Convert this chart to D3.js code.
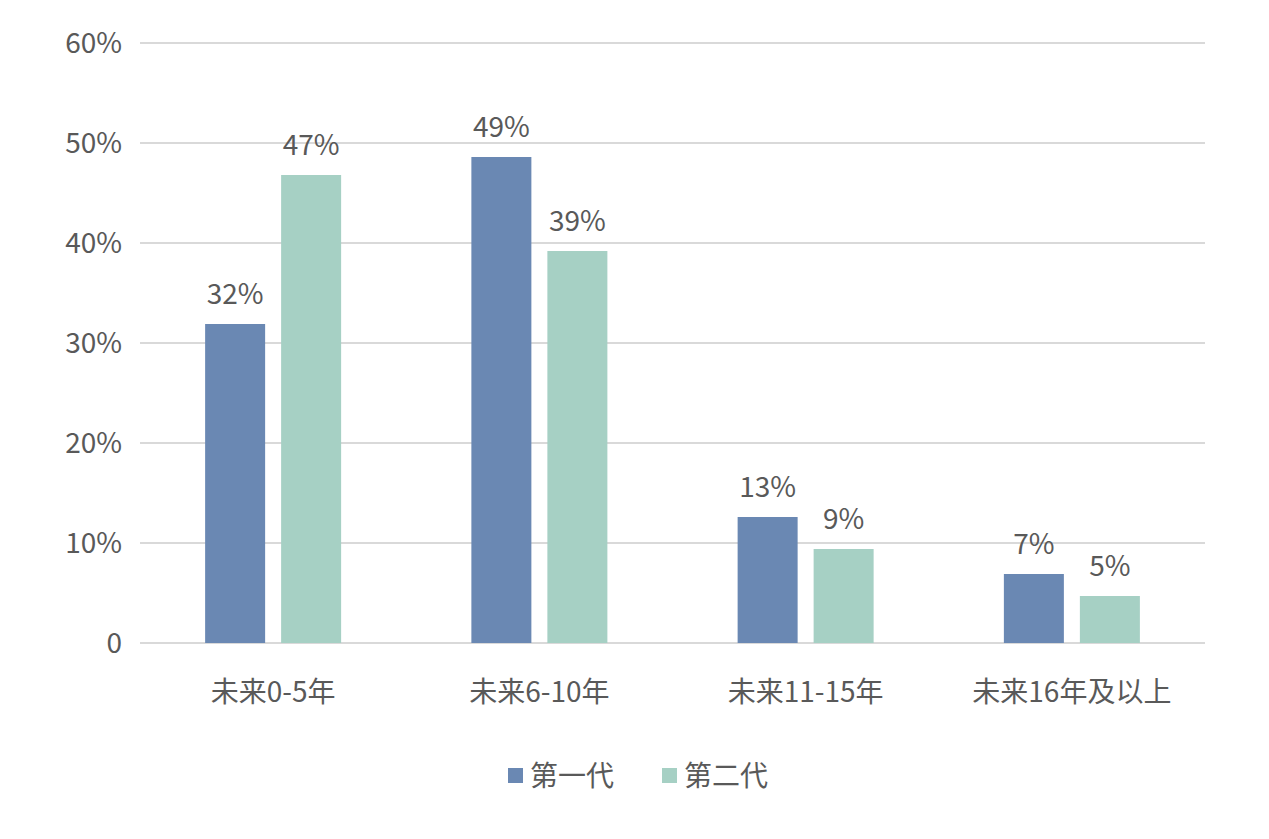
<!DOCTYPE html>
<html><head><meta charset="utf-8">
<script src="https://cdn.jsdelivr.net/npm/d3@7"></script>
<style>body{margin:0;background:#fff}text{font-family:"Noto Sans CJK SC","Noto Sans",sans-serif;fill:#595959}</style>
</head><body>
<svg id="chart" width="1269" height="839"></svg>
<script>
const categories = ["未来0-5年", "未来6-10年", "未来11-15年", "未来16年及以上"];
const seriesNames = ["第一代", "第二代"];
const gen1 = [31.9, 48.6, 12.6, 6.9];
const gen2 = [46.8, 39.2, 9.4, 4.7];
const ticks = [0, 10, 20, 30, 40, 50, 60];
const colors = ["#6a88b3", "#a6d0c4"];

const svg = d3.select("#chart");
const plotL = 140, plotR = 1205, plotT = 43, plotB = 643;

const x = d3.scaleBand().domain(categories).range([plotL, plotR]);
const y = d3.scaleLinear().domain([0, 60]).range([plotB, plotT]);

// gridlines + tick labels
svg.selectAll("line.grid").data(ticks).enter().append("line")
  .attr("x1", plotL).attr("x2", plotR)
  .attr("y1", d => y(d)).attr("y2", d => y(d))
  .attr("stroke", "#d9d9d9").attr("stroke-width", 2);
svg.selectAll("text.tick").data(ticks).enter().append("text")
  .attr("x", 122).attr("y", d => y(d)).attr("dy", "0.35em")
  .attr("text-anchor", "end").attr("font-size", 28)
  .text(d => d === 0 ? "0" : d + "%");

const barW = 60, gap = 16;
[gen1, gen2].forEach((vals, s) => {
  const off = s === 0 ? -gap / 2 - barW : gap / 2;
  const g = svg.append("g");
  g.selectAll("rect").data(vals).enter().append("rect")
    .attr("x", (d, i) => x(categories[i]) + x.bandwidth() / 2 + off)
    .attr("y", d => y(d)).attr("width", barW)
    .attr("height", d => plotB - y(d)).attr("fill", colors[s]);
  g.selectAll("text").data(vals).enter().append("text")
    .attr("x", (d, i) => x(categories[i]) + x.bandwidth() / 2 + off + barW / 2)
    .attr("y", d => y(d) - 20).attr("text-anchor", "middle").attr("font-size", 28)
    .text(d => Math.round(d) + "%");
});

svg.selectAll("text.cat").data(categories).enter().append("text")
  .attr("x", d => x(d) + x.bandwidth() / 2).attr("y", 702)
  .attr("text-anchor", "middle").attr("font-size", 28).text(d => d);

// legend
const lx = [508, 662];
seriesNames.forEach((n, i) => {
  svg.append("rect").attr("x", lx[i]).attr("y", 768).attr("width", 15).attr("height", 15).attr("fill", colors[i]);
  svg.append("text").attr("x", lx[i] + 22).attr("y", 776).attr("dy", "0.35em")
    .attr("font-size", 28).text(n);
});
</script>
</body></html>
